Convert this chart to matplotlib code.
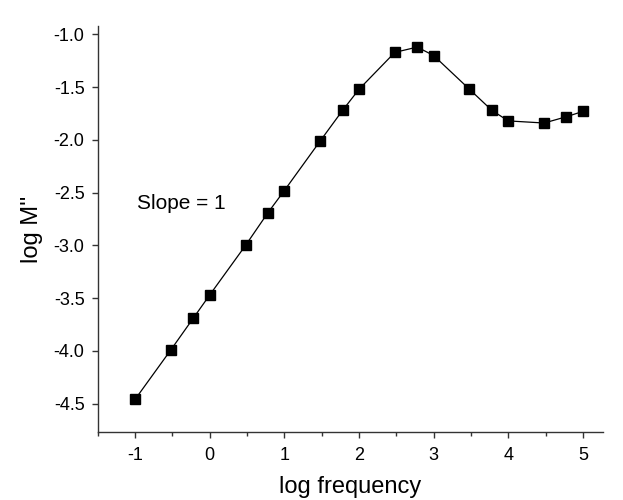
#!/usr/bin/env python

import numpy as np
import matplotlib as mpl
mpl.use('Agg')
import matplotlib.pyplot as plt
from matplotlib.ticker import MultipleLocator

# log frequency vs log M''
log_freq = [-1.0, -0.52, -0.22, 0.0, 0.48, 0.78, 1.0, 1.48, 1.78, 2.0,
            2.48, 2.78, 3.0, 3.48, 3.78, 4.0, 4.48, 4.78, 5.0]
log_m2 = [-4.46, -3.99, -3.69, -3.47, -3.00, -2.69, -2.48, -2.01, -1.72, -1.52,
          -1.17, -1.12, -1.20, -1.52, -1.72, -1.82, -1.84, -1.78, -1.73]

x_ticks = [-1, 0, 1, 2, 3, 4, 5]
y_ticks = [-4.5, -4.0, -3.5, -3.0, -2.5, -2.0, -1.5, -1.0]


def main():
    plt.rcParams['font.family'] = ['Liberation Sans', 'DejaVu Sans']

    fig = plt.figure(figsize=(6.23, 5.0), dpi=100)
    fig.patch.set_color('white')
    ax = fig.add_axes([0.157, 0.136, 0.811, 0.812])

    ax.plot(log_freq, log_m2, color='black', lw=0.9, marker='s', ms=6.5,
            mfc='black', mec='black')

    ax.text(-0.97, -2.6, 'Slope = 1', fontsize=15, va='center', ha='left')

    ax.set_xlim(-1.5, 5.27)
    ax.set_ylim(-4.77, -0.92)
    ax.set_xticks(x_ticks)
    ax.set_xticklabels([str(t) for t in x_ticks])
    ax.xaxis.set_minor_locator(MultipleLocator(0.5))
    ax.set_yticks(y_ticks)
    ax.set_yticklabels(['%.1f' % t for t in y_ticks])

    ax.spines['top'].set_visible(False)
    ax.spines['right'].set_visible(False)
    for s in ('left', 'bottom'):
        ax.spines[s].set_linewidth(1.0)
        ax.spines[s].set_color('#333333')

    ax.tick_params(axis='x', which='major', direction='out', length=4.5,
                   width=1.0, labelsize=13, pad=6, color='#333333')
    ax.tick_params(axis='y', which='major', direction='out', length=4.5,
                   width=1.0, labelsize=13, pad=5, color='#333333')
    ax.tick_params(axis='x', which='minor', direction='out', length=3,
                   width=1.0, color='#333333')

    ax.set_xlabel('log frequency', fontsize=17, labelpad=9)
    ax.set_ylabel("log M''", fontsize=17, labelpad=8)

    plt.savefig('out.png', dpi=100)


if __name__ == '__main__':
    main()
